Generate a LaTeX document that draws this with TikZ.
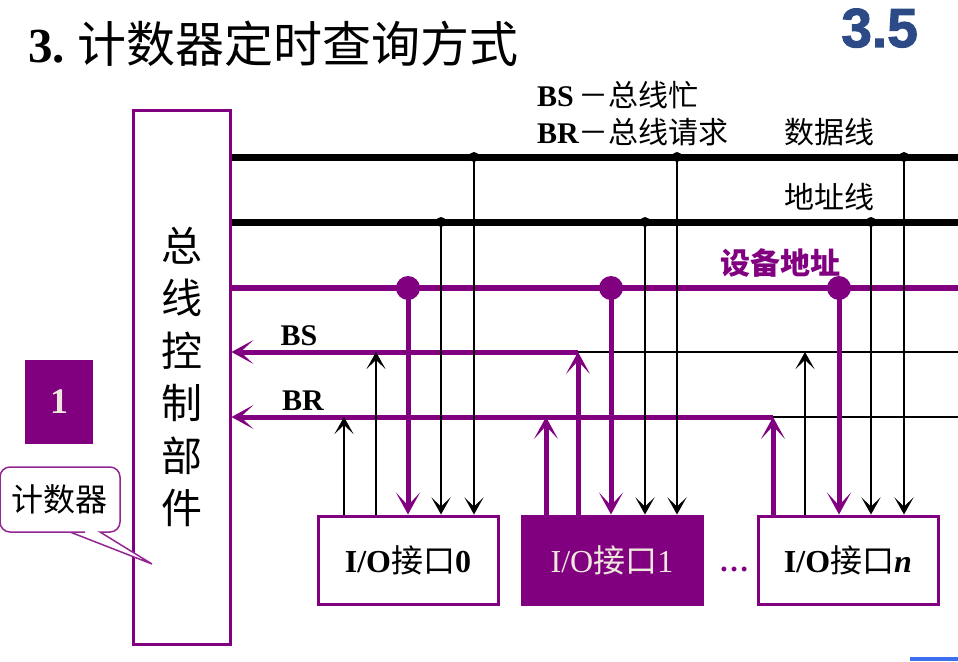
\documentclass[tikz,border=0pt]{standalone}
\usepackage{fontspec}
\setmainfont{Liberation Serif}
\newfontfamily\cjk{Noto Sans CJK SC}
\newfontfamily\secfont[FakeBold=2]{Liberation Sans Bold}
\usetikzlibrary{arrows.meta}
\definecolor{purp}{RGB}{128,0,128}
\definecolor{numblue}{RGB}{44,74,134}
\definecolor{cream}{RGB}{238,232,220}
\definecolor{barblue}{RGB}{60,110,240}
\begin{document}
\begin{tikzpicture}[x=1pt,y=-1pt,
  bus/.style={line width=7pt},
  pbus/.style={purp,line width=6pt},
  ctl/.style={purp,line width=5pt},
  thinline/.style={line width=2.8pt},
  ptip/.style={-{Stealth[length=22pt,width=24pt,inset=13pt]}},
  parr/.style={purp,line width=5pt,ptip},
  barr/.style={line width=2.8pt,-{Stealth[length=17pt,width=19pt,inset=9pt]}},
  iobox/.style={draw=purp,line width=3pt,minimum width=180pt,minimum height=88pt,inner sep=0pt,font=\fontsize{32}{34}\selectfont},
  lbl/.style={font=\fontsize{30}{32}\selectfont,inner sep=0pt},
  dotb/.style={fill=black},
  dotp/.style={fill=purp},
]
\useasboundingbox (0,0) rectangle (958,661);

% title and section number
\node[anchor=base west,inner sep=0pt] (title) at (28,63) {\fontsize{49}{56}\selectfont\bfseries 3.\ {\mdseries\cjk 计数器定时查询方式}};
\node[anchor=base east,inner sep=0pt,text=numblue] (sec) at (918,47) {\secfont\fontsize{55}{60}\selectfont 3.5};

% controller
\node[draw=purp,line width=3pt,minimum width=97pt,minimum height=534pt,inner sep=0pt,align=center,font=\cjk\fontsize{41}{52.4}\selectfont] (ctrl) at (181.5,377) {总\\线\\控\\制\\部\\件};

% bus right ends
\coordinate (dataR) at (958,157);
\coordinate (addrR) at (958,222);
\coordinate (devR) at (958,288);
\coordinate (bsR) at (958,352);
\coordinate (brR) at (958,417);
\coordinate (bsJ) at (578,352);
\coordinate (brJ) at (773,417);

% taps on buses
\coordinate (d0) at (474,157);
\coordinate (d1) at (677,157);
\coordinate (dn) at (904,157);
\coordinate (a0) at (441,222);
\coordinate (a1) at (645,222);
\coordinate (an) at (871,222);
\coordinate (v0) at (408,288);
\coordinate (v1) at (611,288);
\coordinate (vn) at (839,288);
\coordinate (s0) at (376,352);
\coordinate (sn) at (805,352);
\coordinate (r0) at (344,417);
\coordinate (r1) at (546,417);

% buses
\draw[bus] (ctrl.east |- dataR) -- (dataR);
\draw[bus] (ctrl.east |- addrR) -- (addrR);
\draw[pbus] (ctrl.east |- devR) -- (devR);
\draw[thinline] (bsJ) -- (bsR);
\draw[thinline] (brJ) -- (brR);
\draw[ctl,ptip] (bsJ) -- (ctrl.east |- bsJ);
\draw[ctl,ptip] (brJ) -- (ctrl.east |- brJ);

% interface boxes
\node[iobox] (io0) at (408,560) {\bfseries I/O{\mdseries\cjk 接口}0};
\node[iobox,fill=purp,text=cream] (io1) at (612,560) {I/O{\cjk 接口}1};
\node[iobox] (ion) at (848,560) {\bfseries I/O{\mdseries\cjk 接口}\textit{n}};
\node[anchor=base,inner sep=0pt,text=purp,font=\bfseries\fontsize{30}{32}\selectfont] (ell) at (734,571) {…};

% interface 0
\draw[barr] (r0 |- io0.north) -- (r0);
\draw[barr] (s0 |- io0.north) -- (s0);
\draw[parr] (v0) -- (v0 |- io0.north);
\draw[barr] (a0) -- (a0 |- io0.north);
\draw[barr] (d0) -- (d0 |- io0.north);
% interface 1
\draw[parr] (r1 |- io1.north) -- (r1);
\draw[parr] (bsJ |- io1.north) -- (bsJ);
\draw[parr] (v1) -- (v1 |- io1.north);
\draw[barr] (a1) -- (a1 |- io1.north);
\draw[barr] (d1) -- (d1 |- io1.north);
% interface n
\draw[parr] (brJ |- ion.north) -- (brJ);
\draw[barr] (sn |- ion.north) -- (sn);
\draw[parr] (vn) -- (vn |- ion.north);
\draw[barr] (an) -- (an |- ion.north);
\draw[barr] (dn) -- (dn |- ion.north);

% junction dots
\foreach \p in {d0,d1,dn,a0,a1,an} \fill[dotb] (\p) circle (5);
\foreach \p in {v0,v1,vn} \fill[dotp] (\p) circle (12);

% labels
\node[lbl,anchor=west] (bslbl) at (537,95) {\bfseries BS\,{\mdseries\cjk －总线忙}};
\node[lbl,anchor=west] (brlbl) at (537,132) {\bfseries BR{\mdseries\cjk －总线请求}};
\node[lbl] (datalbl) at (829,132) {\cjk 数据线};
\node[lbl] (addrlbl) at (829,197) {\cjk 地址线};
\node[lbl,text=purp] (devlbl) at (780,263) {\cjk\bfseries 设备地址};
\node[lbl,font=\bfseries\fontsize{30}{32}\selectfont] (bs) at (299,336) {BS};
\node[lbl,font=\bfseries\fontsize{30}{32}\selectfont] (br) at (303,401) {BR};

% step number
\node[fill=purp,minimum width=68pt,minimum height=84pt,inner sep=0pt,text=cream,font=\bfseries\fontsize{36}{38}\selectfont] (one) at (59,402) {1};

% callout
\draw[purp!85,line width=1.5pt,fill=white] (85,532) [rounded corners=10pt] -- (0,532) -- (0,467) -- (120,467) -- (120,532) [sharp corners] -- (100,532) -- (152,564) -- (70,532) -- cycle;
\node[lbl,font=\fontsize{32}{34}\selectfont] (cnt) at (60,499) {\cjk 计数器};

% bottom bar
\fill[barblue] (910,657) rectangle (958,661);
\end{tikzpicture}
\end{document}
